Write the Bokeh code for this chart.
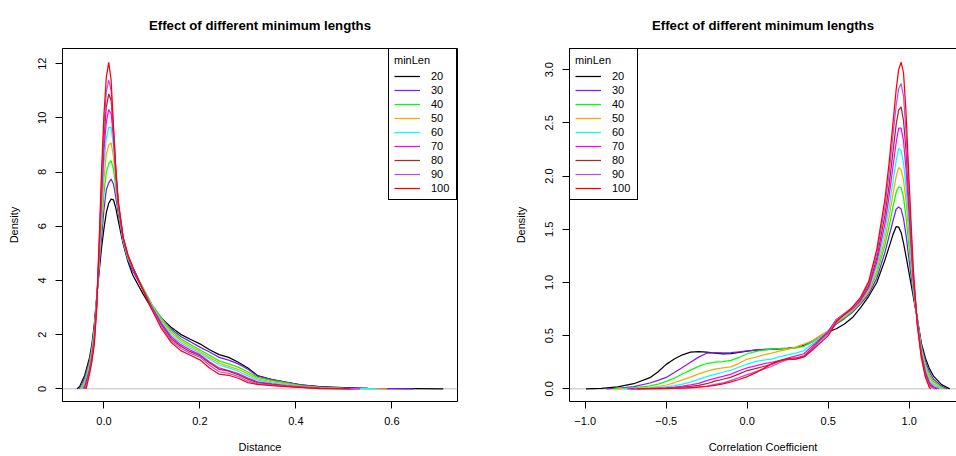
from bokeh.plotting import figure
from bokeh.layouts import row
from bokeh.models import Range1d, FixedTicker, Legend, LegendItem, Span, LinearAxis
from bokeh.embed import file_html
from bokeh.resources import INLINE

TITLE = "Effect of different minimum lengths"
LEGEND_TITLE = "minLen"
MIN_LEN = ["20", "30", "40", "50", "60", "70", "80", "90", "100"]
COLORS = ["#000000", "#7A1CF5", "#00FF00", "#FFA500", "#00FFFF",
          "#FF00FF", "#A52A2A", "#B94EF7", "#FF0000"]

# ---------------- left panel: Distance ----------------
DIST_TICKS = [0.0, 0.2, 0.4, 0.6]
DIST_TICK_LABELS = ["0.0", "0.2", "0.4", "0.6"]
DIST_Y_TICKS = [0, 2, 4, 6, 8, 10, 12]
DIST_Y_TICK_LABELS = ["0", "2", "4", "6", "8", "10", "12"]

DIST_X = [-0.05, -0.04, -0.03, -0.025, -0.02, -0.015, -0.01, -0.005,
          0.0, 0.005, 0.01, 0.015, 0.02, 0.025, 0.03,
          0.04, 0.05, 0.06, 0.08,
          0.10, 0.12, 0.14, 0.16, 0.18, 0.20, 0.22, 0.24, 0.26, 0.28, 0.30, 0.32,
          0.35, 0.38, 0.41, 0.45, 0.50, 0.55, 0.60, 0.65]
DIST_START = [-0.056, -0.053, -0.049, -0.047, -0.045, -0.043, -0.041, -0.039, -0.037]
DIST_END = [0.707, 0.644, 0.555, 0.59, 0.57, 0.534, 0.52, 0.525, 0.513]

DIST_20 = [0.10, 0.50, 1.15, 1.65, 2.40, 3.40, 4.30, 5.20,
           5.90, 6.50, 6.85, 7.00, 6.97, 6.65, 6.20,
           5.35, 4.70, 4.20, 3.55,
           2.95, 2.60, 2.27, 2.01, 1.83, 1.66, 1.44, 1.26, 1.16, 0.98, 0.77, 0.49,
           0.34, 0.24, 0.15, 0.08, 0.04, 0.02, 0.01, 0.005]
DIST_30 = [0.05, 0.40, 1.05, 1.55, 2.30, 3.35, 4.45, 5.55,
           6.60, 7.35, 7.60, 7.74, 7.55, 7.05, 6.45,
           5.40, 4.75, 4.35, 3.70,
           3.08, 2.62, 2.22, 1.93, 1.74, 1.54, 1.36, 1.16, 1.06, 0.92, 0.72, 0.47,
           0.34, 0.25, 0.15, 0.07, 0.03, 0.015, 0.008, 0.0]
DIST_40 = [0.0, 0.30, 0.95, 1.45, 2.20, 3.30, 4.60, 5.95,
           7.20, 8.00, 8.30, 8.42, 8.10, 7.40, 6.60,
           5.45, 4.80, 4.45, 3.78,
           3.12, 2.60, 2.15, 1.85, 1.63, 1.44, 1.24, 1.03, 0.92, 0.80, 0.62, 0.42,
           0.30, 0.22, 0.12, 0.05, 0.02, 0.005, 0.0, 0.0]
DIST_50 = [0.0, 0.22, 0.88, 1.38, 2.10, 3.25, 4.75, 6.35,
           7.75, 8.65, 9.00, 9.08, 8.55, 7.60, 6.70,
           5.50, 4.85, 4.47, 3.76,
           3.08, 2.54, 2.08, 1.78, 1.56, 1.38, 1.16, 0.95, 0.83, 0.72, 0.55, 0.37,
           0.26, 0.18, 0.10, 0.04, 0.015, 0.005, 0.0, 0.0]
DIST_60 = [0.0, 0.15, 0.80, 1.30, 2.00, 3.20, 4.90, 6.70,
           8.30, 9.25, 9.65, 9.65, 8.95, 7.70, 6.75,
           5.52, 4.87, 4.48, 3.74,
           3.05, 2.48, 2.00, 1.71, 1.50, 1.32, 1.10, 0.88, 0.77, 0.65, 0.48, 0.32,
           0.22, 0.15, 0.08, 0.03, 0.01, 0.003, 0.0, 0.0]
DIST_70 = [0.0, 0.10, 0.72, 1.22, 1.90, 3.15, 5.00, 7.00,
           8.80, 9.85, 10.30, 10.15, 9.25, 7.85, 6.80,
           5.55, 4.89, 4.48, 3.72,
           3.02, 2.42, 1.93, 1.63, 1.43, 1.26, 1.00, 0.77, 0.67, 0.56, 0.40, 0.26,
           0.18, 0.12, 0.07, 0.025, 0.008, 0.0, 0.0, 0.0]
DIST_80 = [0.0, 0.05, 0.65, 1.15, 1.82, 3.10, 5.15, 7.35,
           9.25, 10.40, 10.88, 10.65, 9.45, 7.95, 6.85,
           5.57, 4.91, 4.48, 3.71,
           2.99, 2.36, 1.86, 1.57, 1.37, 1.22, 0.95, 0.72, 0.65, 0.52, 0.36, 0.23,
           0.16, 0.10, 0.06, 0.02, 0.006, 0.0, 0.0, 0.0]
DIST_90 = [0.0, 0.0, 0.60, 1.08, 1.74, 3.05, 5.30, 7.65,
           9.70, 10.95, 11.40, 11.00, 9.55, 8.00, 6.88,
           5.59, 4.93, 4.49, 3.70,
           2.96, 2.30, 1.79, 1.50, 1.31, 1.17, 0.87, 0.63, 0.57, 0.46, 0.29, 0.19,
           0.14, 0.09, 0.05, 0.015, 0.004, 0.0, 0.0, 0.0]
DIST_100 = [0.0, 0.0, 0.55, 1.00, 1.65, 3.00, 5.40, 8.00,
            10.10, 11.50, 12.05, 11.40, 9.65, 8.05, 6.90,
            5.60, 4.95, 4.50, 3.70,
            2.92, 2.22, 1.72, 1.41, 1.24, 1.07, 0.77, 0.54, 0.50, 0.39, 0.23, 0.16,
            0.12, 0.085, 0.05, 0.01, 0.003, 0.0, 0.0, 0.0]

# ---------------- right panel: Correlation Coefficient ----------------
CORR_TICKS = [-1.0, -0.5, 0.0, 0.5, 1.0]
CORR_TICK_LABELS = ["\u22121.0", "\u22120.5", "0.0", "0.5", "1.0"]
CORR_Y_TICKS = [0.0, 0.5, 1.0, 1.5, 2.0, 2.5, 3.0]
CORR_Y_TICK_LABELS = ["0.0", "0.5", "1.0", "1.5", "2.0", "2.5", "3.0"]

CORR_X = [-0.9, -0.8, -0.7, -0.6,
          -0.55, -0.5, -0.45, -0.4, -0.35, -0.3, -0.25, -0.2, -0.15, -0.1, -0.05,
          0.0, 0.05, 0.1, 0.15, 0.2, 0.25, 0.3, 0.35, 0.4, 0.45, 0.5, 0.55, 0.6,
          0.65, 0.7, 0.75, 0.8, 0.85,
          0.875, 0.9, 0.92, 0.935, 0.95, 0.965, 0.98,
          1.0, 1.025, 1.05, 1.075, 1.1, 1.125, 1.15, 1.2]
CORR_START = [-0.995, -0.87, -0.83, -0.8, -0.77, -0.74, -0.72, -0.7, -0.68]
CORR_END = [1.25, 1.235, 1.22, 1.21, 1.2, 1.185, 1.17, 1.16, 1.135]

CORR_20 = [0.005, 0.018, 0.048, 0.105,
           0.16, 0.23, 0.28, 0.32, 0.345, 0.35, 0.345, 0.335, 0.329, 0.33, 0.342,
           0.355, 0.363, 0.368, 0.372, 0.376, 0.38, 0.39, 0.41, 0.448, 0.495, 0.535,
           0.565, 0.61, 0.67, 0.763, 0.87, 1.0, 1.21,
           1.33, 1.45, 1.525, 1.52, 1.47, 1.37, 1.25,
           1.08, 0.87, 0.66, 0.43, 0.29, 0.19, 0.12, 0.04]
CORR_30 = [0.0, 0.005, 0.02, 0.055,
           0.08, 0.107, 0.153, 0.2, 0.25, 0.298, 0.335, 0.34, 0.337, 0.34, 0.348,
           0.356, 0.365, 0.37, 0.374, 0.378, 0.382, 0.388, 0.405, 0.44, 0.49, 0.54,
           0.61, 0.66, 0.72, 0.8, 0.89, 1.04, 1.28,
           1.43, 1.58, 1.69, 1.71, 1.69, 1.6, 1.45,
           1.2, 0.9, 0.66, 0.41, 0.26, 0.16, 0.09, 0.025]
CORR_40 = [0.0, 0.002, 0.008, 0.028,
           0.045, 0.07, 0.1, 0.14, 0.176, 0.211, 0.238, 0.25, 0.256, 0.268, 0.295,
           0.33, 0.35, 0.365, 0.373, 0.378, 0.38, 0.385, 0.4, 0.44, 0.49, 0.54,
           0.62, 0.67, 0.73, 0.81, 0.91, 1.08, 1.35,
           1.52, 1.71, 1.85, 1.9, 1.89, 1.8, 1.62,
           1.32, 0.93, 0.65, 0.39, 0.23, 0.13, 0.07, 0.015]
CORR_50 = [0.0, 0.0, 0.004, 0.013,
           0.022, 0.036, 0.057, 0.085, 0.11, 0.14, 0.165, 0.185, 0.196, 0.207, 0.24,
           0.28, 0.297, 0.32, 0.335, 0.355, 0.37, 0.395, 0.42, 0.45, 0.5, 0.545,
           0.63, 0.68, 0.74, 0.82, 0.92, 1.11, 1.41,
           1.61, 1.83, 2.0, 2.08, 2.06, 1.96, 1.77,
           1.42, 0.96, 0.64, 0.37, 0.21, 0.11, 0.05, 0.008]
CORR_60 = [0.0, 0.0, 0.002, 0.007,
           0.012, 0.02, 0.03, 0.045, 0.063, 0.089, 0.114, 0.135, 0.156, 0.175, 0.205,
           0.232, 0.255, 0.27, 0.28, 0.3, 0.32, 0.335, 0.36, 0.42, 0.48, 0.54,
           0.64, 0.69, 0.75, 0.83, 0.94, 1.15, 1.48,
           1.7, 1.95, 2.15, 2.26, 2.24, 2.12, 1.9,
           1.52, 0.99, 0.64, 0.35, 0.19, 0.08, 0.035, 0.0]
CORR_70 = [0.0, 0.0, 0.001, 0.004,
           0.006, 0.01, 0.016, 0.025, 0.038, 0.052, 0.077, 0.098, 0.118, 0.138, 0.17,
           0.197, 0.215, 0.235, 0.25, 0.265, 0.29, 0.31, 0.33, 0.4, 0.47, 0.54,
           0.65, 0.7, 0.75, 0.83, 0.95, 1.19, 1.55,
           1.8, 2.09, 2.32, 2.45, 2.45, 2.33, 2.07,
           1.62, 1.02, 0.63, 0.33, 0.16, 0.06, 0.02, 0.0]
CORR_80 = [0.0, 0.0, 0.0005, 0.002,
           0.004, 0.006, 0.01, 0.016, 0.024, 0.033, 0.048, 0.072, 0.09, 0.11, 0.14,
           0.172, 0.19, 0.21, 0.23, 0.26, 0.285, 0.29, 0.31, 0.38, 0.46, 0.53,
           0.65, 0.7, 0.76, 0.84, 0.97, 1.23, 1.63,
           1.9, 2.23, 2.49, 2.62, 2.65, 2.52, 2.25,
           1.72, 1.06, 0.62, 0.32, 0.14, 0.04, 0.01, 0.0]
CORR_90 = [0.0, 0.0, 0.0, 0.001,
           0.002, 0.004, 0.006, 0.009, 0.013, 0.018, 0.026, 0.041, 0.055, 0.08, 0.105,
           0.133, 0.16, 0.185, 0.21, 0.245, 0.275, 0.28, 0.3, 0.37, 0.45, 0.52,
           0.65, 0.71, 0.76, 0.85, 0.99, 1.27, 1.71,
           2.01, 2.38, 2.67, 2.82, 2.87, 2.75, 2.42,
           1.82, 1.1, 0.61, 0.3, 0.12, 0.025, 0.005, 0.0]
CORR_100 = [0.0, 0.0, 0.0, 0.001,
            0.002, 0.003, 0.005, 0.007, 0.01, 0.015, 0.022, 0.032, 0.046, 0.065, 0.088,
            0.115, 0.15, 0.19, 0.235, 0.265, 0.28, 0.28, 0.3, 0.36, 0.43, 0.5,
            0.63, 0.7, 0.77, 0.86, 1.01, 1.31, 1.78,
            2.11, 2.5, 2.82, 3.0, 3.07, 2.97, 2.61,
            1.93, 1.13, 0.6, 0.29, 0.11, 0.01, 0.0, 0.0]

DIST_SERIES = [DIST_20, DIST_30, DIST_40, DIST_50, DIST_60, DIST_70, DIST_80, DIST_90, DIST_100]
CORR_SERIES = [CORR_20, CORR_30, CORR_40, CORR_50, CORR_60, CORR_70, CORR_80, CORR_90, CORR_100]

FONT = "Liberation Sans"


def clip_series(xs, ys, start, end):
    px = [start]
    py = [0.0]
    for x, y in zip(xs, ys):
        if start < x < end:
            px.append(x)
            py.append(y)
    px.append(end)
    py.append(0.0)
    return px, py


def style(p, xax, yax, xticks, xlabels, yticks, ylabels, xlabel):
    p.title.text_font = FONT
    p.title.text_font_size = "13.2px"
    p.title.text_font_style = "bold"
    p.title.text_color = "black"
    p.title.align = "center"
    p.title.standoff = 31
    p.xgrid.visible = False
    p.ygrid.visible = False
    p.background_fill_color = "white"
    p.border_fill_color = "white"
    for ax in (xax, yax):
        ax.axis_line_color = "black"
        ax.major_tick_line_color = "black"
        ax.minor_tick_line_color = None
        ax.major_tick_out = 7
        ax.major_tick_in = 0
        ax.major_label_text_font = FONT
        ax.major_label_text_font_size = "11px"
        ax.major_label_text_color = "black"
        ax.axis_label_text_font = FONT
        ax.axis_label_text_font_size = "11px"
        ax.axis_label_text_font_style = "normal"
        ax.axis_label_text_color = "black"
    xax.ticker = FixedTicker(ticks=xticks)
    xax.major_label_overrides = {t: s for t, s in zip(xticks, xlabels)}
    xax.axis_label = xlabel
    xax.major_label_standoff = 8
    xax.axis_label_standoff = 13
    yax.ticker = FixedTicker(ticks=yticks)
    yax.major_label_overrides = {t: s for t, s in zip(yticks, ylabels)}
    yax.axis_label = "Density"
    yax.major_label_orientation = "vertical"
    yax.major_label_standoff = 9
    yax.axis_label_standoff = 16


def add_curves(p, xs, series, starts, ends, loc):
    p.add_layout(Span(location=0, dimension="width", line_color="#BEBEBE",
                      line_width=1, level="underlay"))
    items = []
    for ys, s, e, c, lab in zip(series, starts, ends, COLORS, MIN_LEN):
        cx, cy = clip_series(xs, ys, s, e)
        r = p.line(cx, cy, line_color=c, line_width=1.25)
        items.append(LegendItem(label=lab, renderers=[r]))
    leg = Legend(items=items, location=loc, title=LEGEND_TITLE,
                 margin=0, padding=5, spacing=2,
                 glyph_width=26, glyph_height=12, label_height=12,
                 label_standoff=11,
                 label_text_font=FONT, label_text_font_size="11px",
                 label_text_color="black",
                 title_text_font=FONT, title_text_font_size="11px",
                 title_text_font_style="normal", title_text_color="black",
                 title_standoff=4,
                 border_line_color="black", border_line_width=1, border_line_alpha=1.0,
                 background_fill_color="white", background_fill_alpha=1.0)
    p.add_layout(leg)


p1 = figure(width=478, height=456, output_backend="svg", toolbar_location=None,
            x_range=Range1d(-0.0863, 0.7367), y_range=Range1d(-0.468, 12.56),
            min_border_left=62, min_border_right=21, min_border_top=47,
            min_border_bottom=55, title=TITLE)
p1.outline_line_color = "black"
p1.outline_line_alpha = 1.0
p1.outline_line_width = 1
style(p1, p1.below[0], p1.left[0], DIST_TICKS, DIST_TICK_LABELS,
      DIST_Y_TICKS, DIST_Y_TICK_LABELS, "Distance")
add_curves(p1, DIST_X, DIST_SERIES, DIST_START, DIST_END, "top_right")

p2 = figure(width=478, height=456, output_backend="svg", toolbar_location=None,
            x_range=Range1d(-1.097, 1.292), y_range=Range1d(-0.119, 3.199),
            min_border_left=91, min_border_right=0, min_border_top=47,
            min_border_bottom=55, title=TITLE)
p2.outline_line_color = None
style(p2, p2.below[0], p2.left[0], CORR_TICKS, CORR_TICK_LABELS,
      CORR_Y_TICKS, CORR_Y_TICK_LABELS, "Correlation Coefficient")
top_axis = LinearAxis(ticker=FixedTicker(ticks=[]), axis_line_color="black",
                      major_tick_line_color=None, minor_tick_line_color=None,
                      major_label_text_font_size="0px", major_label_standoff=0,
                      major_tick_out=0, major_tick_in=0)
p2.add_layout(top_axis, "above")
add_curves(p2, CORR_X, CORR_SERIES, CORR_START, CORR_END, "top_left")

layout = row(p1, p2)
open("out.html", "w").write(file_html(layout, INLINE))
